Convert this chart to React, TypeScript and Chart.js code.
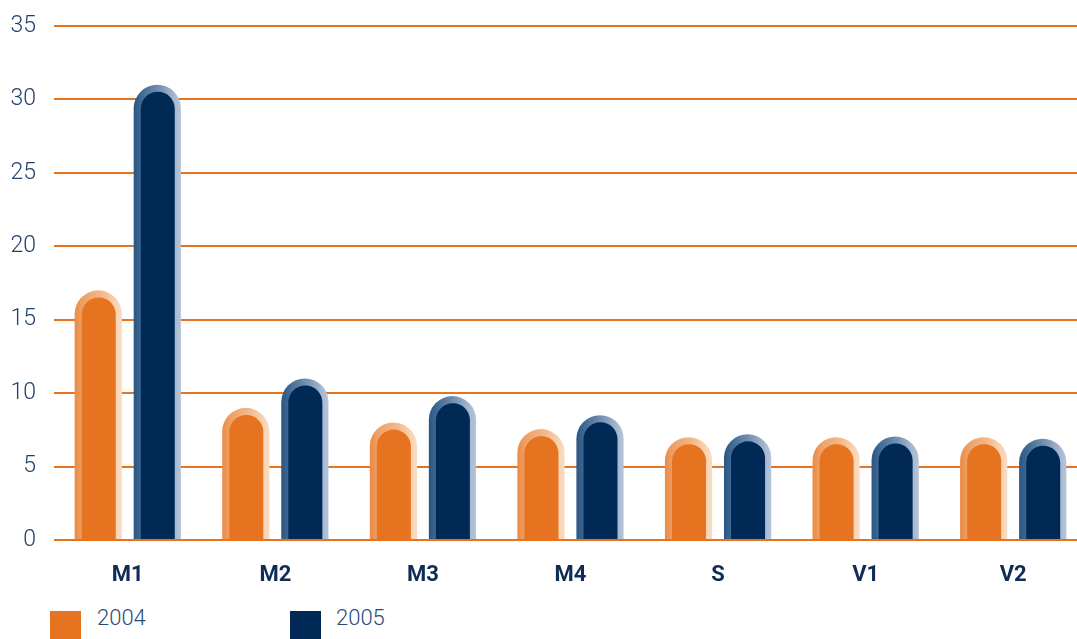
import React, { useEffect, useRef } from "react";
import { Chart, registerables } from "chart.js";

Chart.register(...registerables);

const categories = ["M1", "M2", "M3", "M4", "S", "V1", "V2"];
const values2004 = [17.0, 9.0, 8.0, 7.55, 7.0, 7.0, 7.0];
const values2005 = [31.0, 11.0, 9.8, 8.5, 7.2, 7.05, 6.9];
const seriesLabels = ["2004", "2005"];
const yTicks = [0, 5, 10, 15, 20, 25, 30, 35];

const ORANGE = "#E5731F";
const NAVY = "#002A55";
const FONT = "'Roboto', 'Lato', sans-serif";
const CAT_PCT = 0.8;
const BAR_PCT = 0.8;

function outerGradient(ctx: any, kind: "o" | "n") {
  const chart = ctx.chart;
  const xs = chart.scales && chart.scales.x;
  const fallback = kind === "o" ? ORANGE : NAVY;
  if (!xs || !chart.ctx) return fallback;
  const n = chart.data.labels.length;
  const cw = (xs.right - xs.left) / n;
  const slot = (cw * CAT_PCT) / 2;
  const center = xs.getPixelForValue(ctx.dataIndex);
  const x = center + (ctx.datasetIndex - 0.5) * slot;
  const w = slot * BAR_PCT;
  const left = x - w / 2;
  const right = x + w / 2;
  if (!isFinite(left) || !isFinite(right) || right <= left) return fallback;
  const g = chart.ctx.createLinearGradient(left, 0, right, 0);
  if (kind === "o") {
    g.addColorStop(0, "#EA8A45");
    g.addColorStop(0.15, "#EE9E62");
    g.addColorStop(0.6, "#F3BA8C");
    g.addColorStop(0.87, "#F8D3B2");
    g.addColorStop(1, "#FADCC3");
  } else {
    g.addColorStop(0, "#2B5683");
    g.addColorStop(0.15, "#3D6891");
    g.addColorStop(0.6, "#7E98B8");
    g.addColorStop(0.87, "#A6B9D1");
    g.addColorStop(1, "#B5C5DA");
  }
  return g;
}

const innerBarPlugin = {
  id: "innerBars",
  afterDatasetsDraw(chart: any) {
    const ctx = chart.ctx;
    const colors = [ORANGE, NAVY];
    chart.data.datasets.forEach((_: any, di: number) => {
      const meta = chart.getDatasetMeta(di);
      meta.data.forEach((el: any) => {
        const left = el.x - el.width / 2;
        const w = el.width;
        const il = left + w * 0.15;
        const ir = left + w * 0.87;
        const r = (ir - il) / 2;
        const top = el.y + w * 0.15;
        ctx.save();
        ctx.beginPath();
        ctx.moveTo(il, el.base);
        ctx.lineTo(il, top + r);
        ctx.arc(il + r, top + r, r, Math.PI, 0);
        ctx.lineTo(ir, el.base);
        ctx.closePath();
        ctx.fillStyle = colors[di];
        ctx.fill();
        ctx.restore();
      });
    });
  },
};

export default function App() {
  const ref = useRef<HTMLCanvasElement>(null);

  useEffect(() => {
    if (!ref.current) return;
    const chart = new Chart(ref.current, {
      type: "bar",
      data: {
        labels: categories,
        datasets: [
          {
            label: seriesLabels[0],
            data: values2004,
            backgroundColor: (c: any) => outerGradient(c, "o"),
            borderWidth: 0,
            borderRadius: 200,
            categoryPercentage: CAT_PCT,
            barPercentage: BAR_PCT,
          },
          {
            label: seriesLabels[1],
            data: values2005,
            backgroundColor: (c: any) => outerGradient(c, "n"),
            borderWidth: 0,
            borderRadius: 200,
            categoryPercentage: CAT_PCT,
            barPercentage: BAR_PCT,
          },
        ],
      },
      options: {
        responsive: false,
        animation: false,
        layout: { padding: { top: 26, right: 0, bottom: 0, left: 0 } },
        plugins: {
          legend: { display: false },
          tooltip: { enabled: false },
        },
        scales: {
          x: {
            grid: { display: false, drawTicks: false },
            border: { display: false },
            ticks: {
              color: "#0E2C55",
              font: { family: FONT, size: 22, weight: "bold" },
              padding: 22,
            },
            afterFit: (s: any) => {
              s.height = 60;
            },
          },
          y: {
            min: 0,
            max: 35,
            afterBuildTicks: (s: any) => {
              s.ticks = yTicks.map((v) => ({ value: v }));
            },
            grid: { color: ORANGE, lineWidth: 2, drawTicks: false },
            border: { display: false },
            ticks: {
              color: "#22426E",
              font: { family: FONT, size: 23, weight: "300" },
              padding: 18,
            },
            afterFit: (s: any) => {
              s.width = 54;
              s.paddingTop = 0;
              s.paddingBottom = 0;
            },
          },
        },
      },
      plugins: [innerBarPlugin],
    });
    return () => chart.destroy();
  }, []);

  const legendText: React.CSSProperties = {
    position: "absolute",
    top: 607,
    fontFamily: FONT,
    fontSize: 22,
    fontWeight: 300,
    lineHeight: 1,
    color: "#2A4A75",
  };

  return (
    <div style={{ position: "fixed", left: 0, top: 0, width: 1077, height: 639, overflow: "hidden", background: "#fff" }}>
      <canvas ref={ref} width={1087} height={600} style={{ position: "absolute", left: 0, top: 0, display: "block" }} />
      <div style={{ position: "absolute", left: 50, top: 611, width: 31, height: 28, background: ORANGE }} />
      <div style={{ ...legendText, left: 97 }}>{seriesLabels[0]}</div>
      <div style={{ position: "absolute", left: 290, top: 611, width: 31, height: 28, background: NAVY }} />
      <div style={{ ...legendText, left: 336 }}>{seriesLabels[1]}</div>
    </div>
  );
}
